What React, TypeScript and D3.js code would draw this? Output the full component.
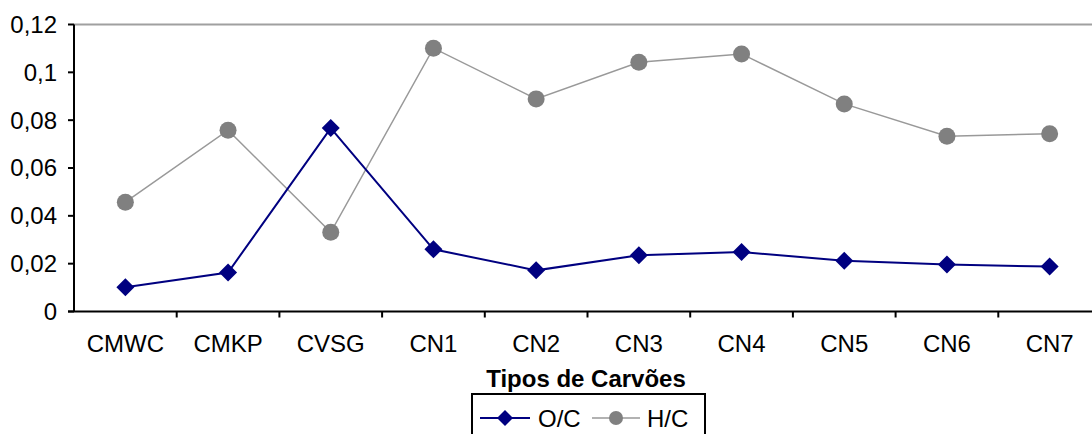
import React from "react";
import * as d3 from "d3";

const categories = ["CMWC", "CMKP", "CVSG", "CN1", "CN2", "CN3", "CN4", "CN5", "CN6", "CN7"];
const ocValues = [0.0101, 0.0163, 0.0767, 0.026, 0.0172, 0.0235, 0.0249, 0.0212, 0.0196, 0.0188];
const hcValues = [0.0457, 0.0758, 0.0331, 0.1101, 0.0889, 0.1042, 0.1077, 0.0868, 0.0733, 0.0743];
const yTicks = [0, 0.02, 0.04, 0.06, 0.08, 0.1, 0.12];
const yTickLabels = ["0", "0,02", "0,04", "0,06", "0,08", "0,1", "0,12"];

const W = 1092;
const H = 434;
const left = 74;
const top = 24.5;
const bottom = 311.5;
const bandW = 102.7;

export default function App() {
  const x = d3
    .scaleBand<string>()
    .domain(categories)
    .range([left, left + bandW * categories.length])
    .padding(0);
  const y = d3.scaleLinear().domain([0, 0.12]).range([bottom, top]);
  const cx = (c: string) => (x(c) ?? 0) + x.bandwidth() / 2;

  const line = d3
    .line<number>()
    .x((_, i) => cx(categories[i]))
    .y((v) => y(v));

  const font = "'Liberation Sans', Arial, sans-serif";
  const diamond = (px: number, py: number, r: number) =>
    `M${px},${py - r}L${px + r},${py}L${px},${py + r}L${px - r},${py}Z`;

  return (
    <svg
      width={W}
      height={H}
      style={{ position: "absolute", left: 0, top: 0, background: "#fff" }}
      fontFamily={font}
    >
      {/* top border */}
      <line x1={left} x2={W} y1={top} y2={top} stroke="#a0a0a0" strokeWidth={2} />
      {/* y axis */}
      <line x1={left} x2={left} y1={top} y2={bottom} stroke="#000" strokeWidth={2} />
      {yTicks.map((t, i) => (
        <g key={t}>
          <line x1={left - 6} x2={left} y1={y(t)} y2={y(t)} stroke="#000" strokeWidth={2} />
          <text
            x={57}
            y={y(t)}
            dy="0.35em"
            textAnchor="end"
            fontSize={24}
            fill="#000"
          >
            {yTickLabels[i]}
          </text>
        </g>
      ))}
      {/* x axis */}
      <line x1={left - 6} x2={W} y1={bottom} y2={bottom} stroke="#000" strokeWidth={2} />
      {categories.map((c, i) => (
        <g key={c}>
          {i > 0 && (
            <line x1={x(c)} x2={x(c)} y1={bottom} y2={bottom + 6} stroke="#000" strokeWidth={2} />
          )}
          <text x={cx(c)} y={352} textAnchor="middle" fontSize={24} fill="#000">
            {c}
          </text>
        </g>
      ))}
      {/* series */}
      <path d={line(hcValues) ?? ""} fill="none" stroke="#999" strokeWidth={1.5} />
      <path d={line(ocValues) ?? ""} fill="none" stroke="#000080" strokeWidth={2} />
      {hcValues.map((v, i) => (
        <circle key={"h" + i} cx={cx(categories[i])} cy={y(v)} r={8.5} fill="#808080" />
      ))}
      {ocValues.map((v, i) => (
        <path key={"o" + i} d={diamond(cx(categories[i]), y(v), 9)} fill="#000080" />
      ))}
      {/* axis title */}
      <text x={586} y={387} textAnchor="middle" fontSize={24} fontWeight="bold" fill="#000">
        Tipos de Carvões
      </text>
      {/* legend */}
      <rect x={472} y={394} width={233} height={50} fill="#fff" stroke="#000" strokeWidth={2} />
      <line x1={480} x2={530} y1={418} y2={418} stroke="#000080" strokeWidth={2} />
      <path d={diamond(505, 418, 8)} fill="#000080" />
      <text x={538} y={427} fontSize={24} fill="#000">
        O/C
      </text>
      <line x1={592} x2={640} y1={418} y2={418} stroke="#999" strokeWidth={1.5} />
      <circle cx={616} cy={418} r={7} fill="#808080" />
      <text x={647} y={427} fontSize={24} fill="#000">
        H/C
      </text>
    </svg>
  );
}
